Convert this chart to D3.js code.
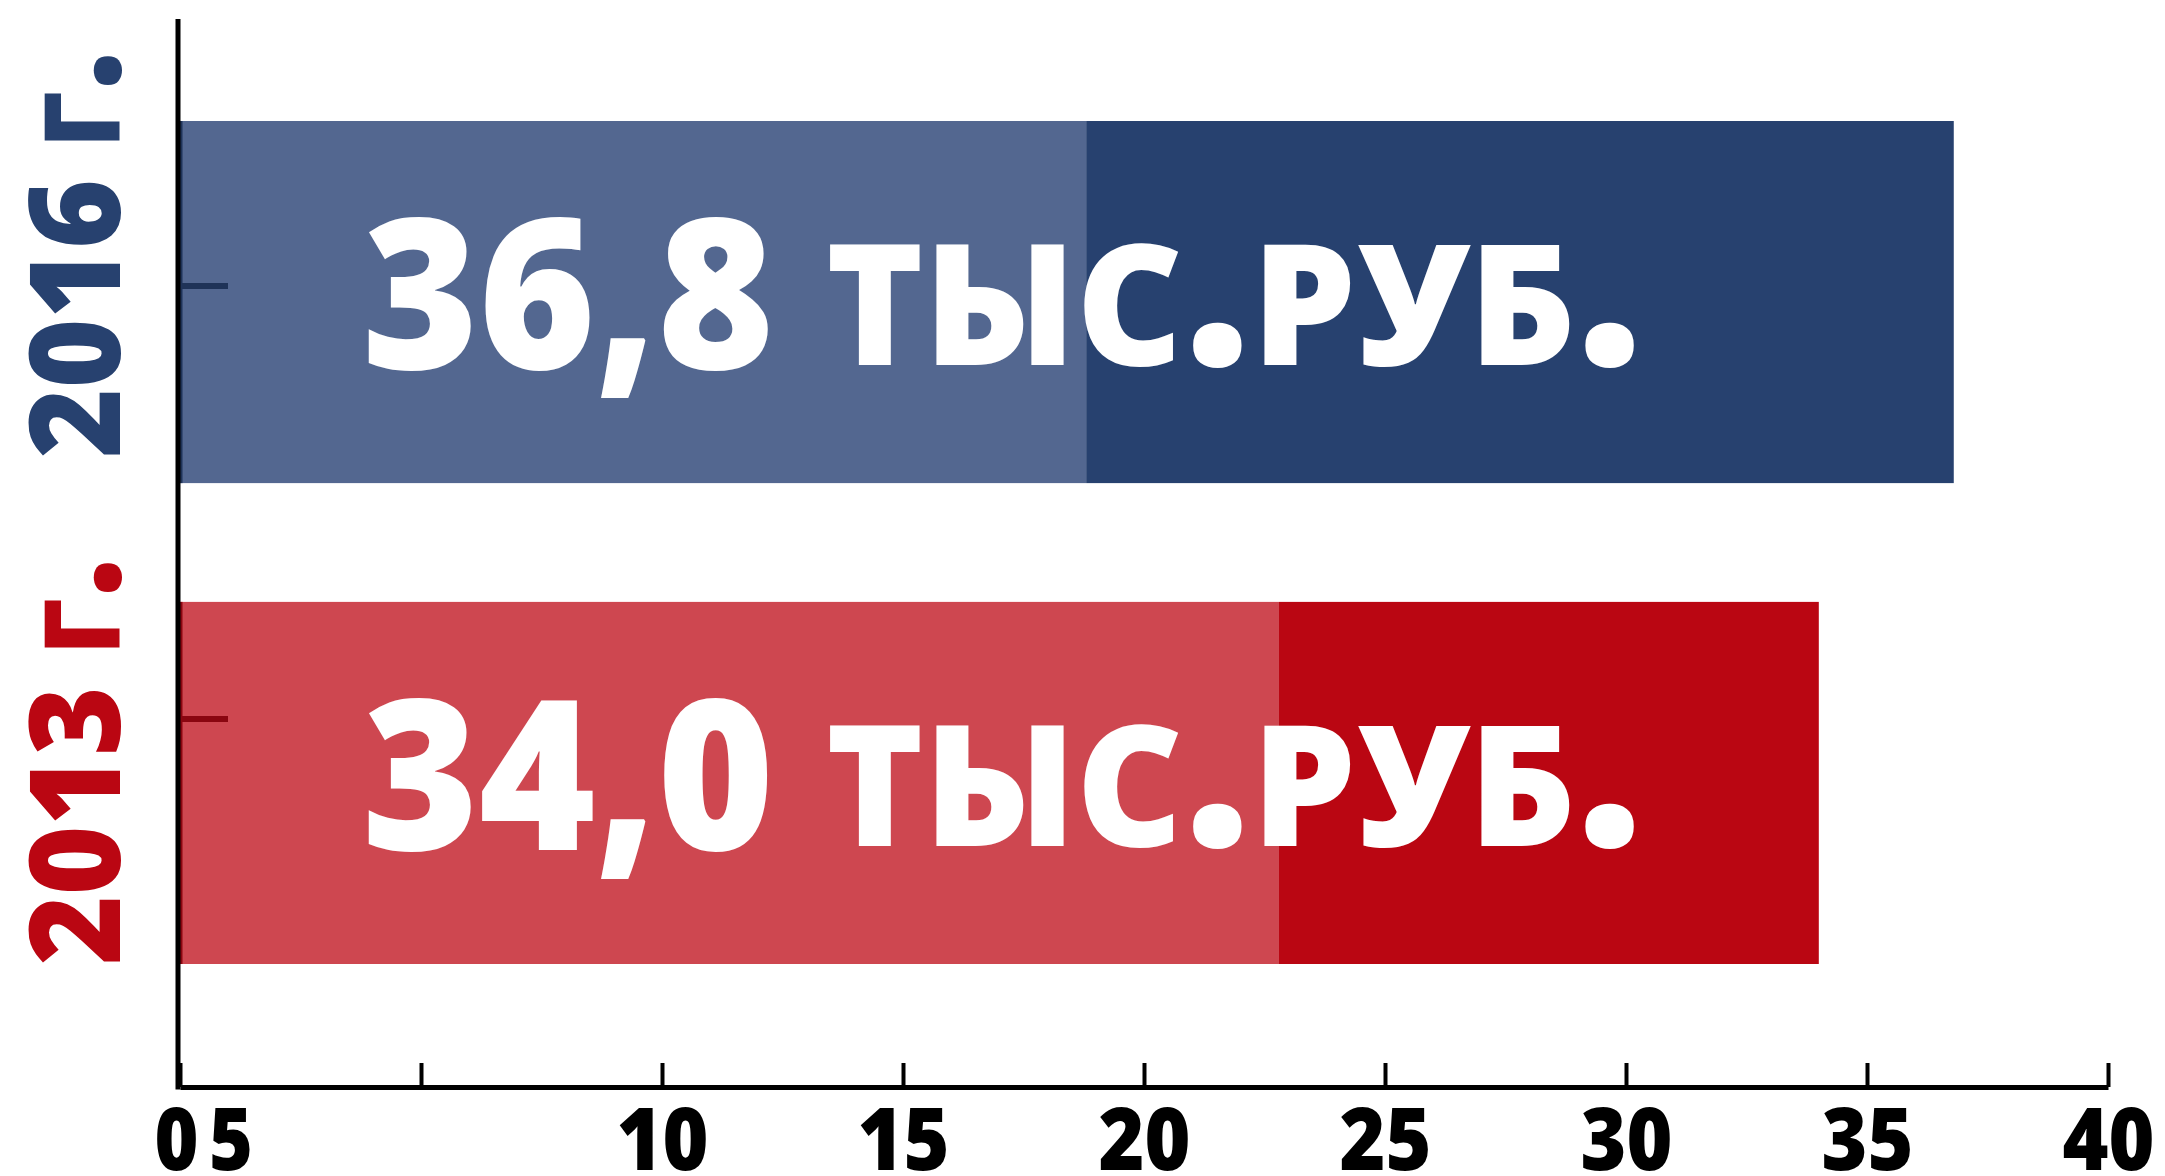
<!DOCTYPE html>
<html><head><meta charset="utf-8">
<script src="https://cdn.jsdelivr.net/npm/d3@7"></script>
<style>html,body{margin:0;padding:0;background:#fff;overflow:hidden}</style>
</head><body><svg id="chart" width="2165" height="1176"></svg>
<script>
// ---- data ----
const categories = ["2016 г.", "2013 г."];
const lightPart = [18.8, 22.8];
const darkPart = [18.0, 11.2];
const valueLabels = ["36,8", "34,0"];
const unitLabel = "тыс.руб.";
const xTickValues = [0, 5, 10, 15, 20, 25, 30, 35, 40];
const xTickLabels = ["0", "5", "10", "15", "20", "25", "30", "35", "40"];

// ---- styles ----
const palette = {
  light: ["#536790", "#CE4750"],
  dark: ["#27416F", "#BA0612"],
  edge: ["#1F3358", "#8A0610"],
  year: ["#27416F", "#BA0612"]
};
const FONT = "'Open Sans', 'DejaVu Sans', sans-serif";

const svg = d3.select("#chart");
svg.append("rect").attr("width", 2165).attr("height", 1176).attr("fill", "#fff");

const axisY = 1087;
const x = d3.scaleLinear().domain([0, 40]).range([180, 2108]);
const y = d3.scaleBand().domain(categories).range([121, 964]).paddingInner(0.247).paddingOuter(0);
const yTick = d3.scalePoint().domain(categories).range([286, 719]);
const yLabel = d3.scalePoint().domain(categories).range([254, 761]);

const rows = categories.map((c, i) => ({cat: c, light: lightPart[i], dark: darkPart[i], i}));
const series = d3.stack().keys(["light", "dark"])(rows);

// bars
series.forEach(layer => {
  svg.append("g").selectAll("rect").data(layer).join("rect")
    .attr("x", d => x(d[0]))
    .attr("width", d => x(d[1]) - x(d[0]))
    .attr("y", d => y(d.data.cat))
    .attr("height", y.bandwidth())
    .attr("fill", d => palette[layer.key][d.data.i]);
});

// dark left edge of bars
svg.append("g").selectAll("rect").data(rows).join("rect")
  .attr("x", x(0)).attr("width", 2.5)
  .attr("y", d => y(d.cat)).attr("height", y.bandwidth())
  .attr("fill", d => palette.edge[d.i]);

// small y ticks
svg.append("g").selectAll("line").data(rows).join("line")
  .attr("x1", x(0)).attr("x2", x(0) + 48)
  .attr("y1", d => yTick(d.cat)).attr("y2", d => yTick(d.cat))
  .attr("stroke", d => palette.edge[d.i]).attr("stroke-width", 6);

// y axis line
svg.append("line")
  .attr("x1", x(0) - 2).attr("x2", x(0) - 2)
  .attr("y1", 19).attr("y2", axisY + 2.5)
  .attr("stroke", "#000").attr("stroke-width", 5);

// x axis
const xAxis = d3.axisBottom(x)
  .tickValues(xTickValues)
  .tickFormat((d, i) => xTickLabels[i])
  .tickSize(-24).tickSizeOuter(0);
const gx = svg.append("g").attr("transform", `translate(0,${axisY})`).call(xAxis);
gx.attr("font-family", null).attr("font-size", null);
gx.select(".domain").attr("stroke", "#000").attr("stroke-width", 5);
gx.selectAll(".tick line").attr("stroke", "#000").attr("stroke-width", 4);
gx.selectAll(".tick text")
  .attr("y", 83).attr("dy", null)
  .attr("x", d => d === 5 ? x(1.05) - x(5) : (d === 0 ? -4 : 0))
  .attr("fill", "#000")
  .attr("font-family", FONT).attr("font-weight", 800).attr("font-size", 86)
  .attr("textLength", (d, i) => xTickLabels[i].length === 1 ? 44 : 92)
  .attr("lengthAdjust", "spacingAndGlyphs");

// year labels (rotated)
const yl = svg.append("g").selectAll("text").data(rows).join("text")
  .attr("transform", d => `translate(120,${yLabel(d.cat)}) rotate(-90)`)
  .attr("text-anchor", "middle")
  .attr("font-family", FONT).attr("font-weight", 800).attr("font-size", 126)
  .attr("textLength", 408).attr("lengthAdjust", "spacingAndGlyphs")
  .attr("fill", d => palette.year[d.i]);
yl.append("tspan").text(d => d.cat.split(" ")[0] + " ");
yl.append("tspan")
  .style("font-variant", "small-caps").attr("font-size", 150)
  .text(d => d.cat.split(" ").slice(1).join(" "));

// value labels
const vl = svg.append("g").selectAll("g").data(rows).join("g");
vl.append("text")
  .attr("x", x(0) + 182)
  .attr("y", d => y(d.cat) + y.bandwidth() / 2 + 67)
  .attr("font-family", FONT).attr("font-weight", 800).attr("font-size", 210)
  .attr("textLength", 412).attr("lengthAdjust", "spacingAndGlyphs")
  .attr("fill", "#fff")
  .text(d => valueLabels[d.i]);
vl.append("text")
  .attr("x", x(0) + 646)
  .attr("y", d => y(d.cat) + y.bandwidth() / 2 + 63)
  .attr("font-family", FONT).attr("font-weight", 800).attr("font-size", 242)
  .attr("textLength", 818).attr("lengthAdjust", "spacingAndGlyphs")
  .style("font-variant", "small-caps")
  .attr("fill", "#fff")
  .text(unitLabel);
</script>
</body></html>
